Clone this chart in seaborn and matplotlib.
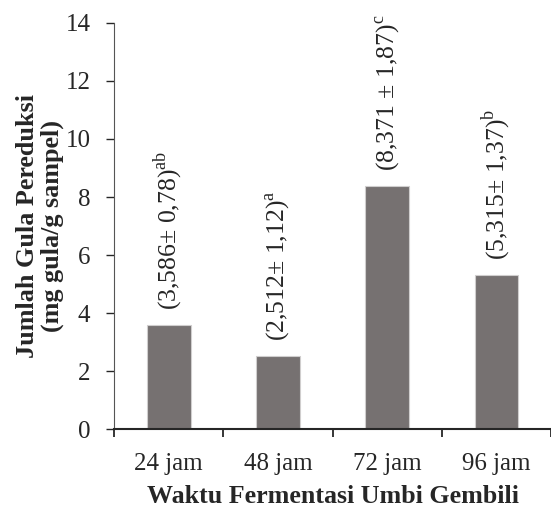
import numpy as np
import pandas as pd
import matplotlib
matplotlib.use("Agg")
import matplotlib.pyplot as plt
import seaborn as sns
from matplotlib.ticker import FixedLocator

sns.set_style("ticks")
plt.rcParams['font.family'] = ['Liberation Serif', 'DejaVu Serif']
plt.rcParams['mathtext.fontset'] = 'custom'
plt.rcParams['mathtext.rm'] = 'Liberation Serif'

# data
waktu = ["24 jam", "48 jam", "72 jam", "96 jam"]
gula = [3.586, 2.512, 8.371, 5.315]
label_txt = ["(3,586\u00b1 0,78)", "(2,512\u00b1 1,12)", "(8,371 \u00b1 1,87)", "(5,315\u00b1 1,37)"]
notasi = ["ab", "a", "c", "b"]

df = pd.DataFrame({"waktu": waktu, "gula": gula})

fig = plt.figure(figsize=(5.51, 5.08), dpi=100)
ax = fig.add_axes([0.207, 0.155, 0.793, 0.80])

sns.barplot(data=df, x="waktu", y="gula", color="#767171", saturation=1,
            width=0.4, edgecolor="#d0cece", linewidth=0.8, ax=ax)

for i, (v, t, n) in enumerate(zip(gula, label_txt, notasi)):
    ax.annotate(t + r"$^{\mathrm{" + n + "}}$", xy=(i, v), xytext=(0, 11),
                textcoords="offset points", rotation=90, ha="center",
                va="bottom", fontsize=18.5)

ax.set_ylim(0, 14)
ax.set_yticks(np.arange(0, 15, 2))
ax.set_xlim(-0.5, 3.5)
ax.xaxis.set_minor_locator(FixedLocator([-0.5, 0.5, 1.5, 2.5, 3.5]))
ax.tick_params(axis="x", which="major", length=0, pad=17, labelsize=18)
ax.tick_params(axis="x", which="minor", length=6, width=1.3, direction="out")
ax.tick_params(axis="y", length=6, width=1, direction="out", labelsize=18, pad=11)

ax.spines["top"].set_visible(False)
ax.spines["right"].set_visible(False)
ax.spines["left"].set_color("#555555")
ax.spines["bottom"].set_linewidth(1.5)

ax.set_xlabel("Waktu Fermentasi Umbi Gembili", fontsize=18.7, fontweight="bold", labelpad=7)
ax.set_ylabel("Jumlah Gula Pereduksi\n(mg gula/g sampel)", fontsize=18.8,
              fontweight="bold", labelpad=1, linespacing=1.1)

plt.savefig("out.png", dpi=100)
